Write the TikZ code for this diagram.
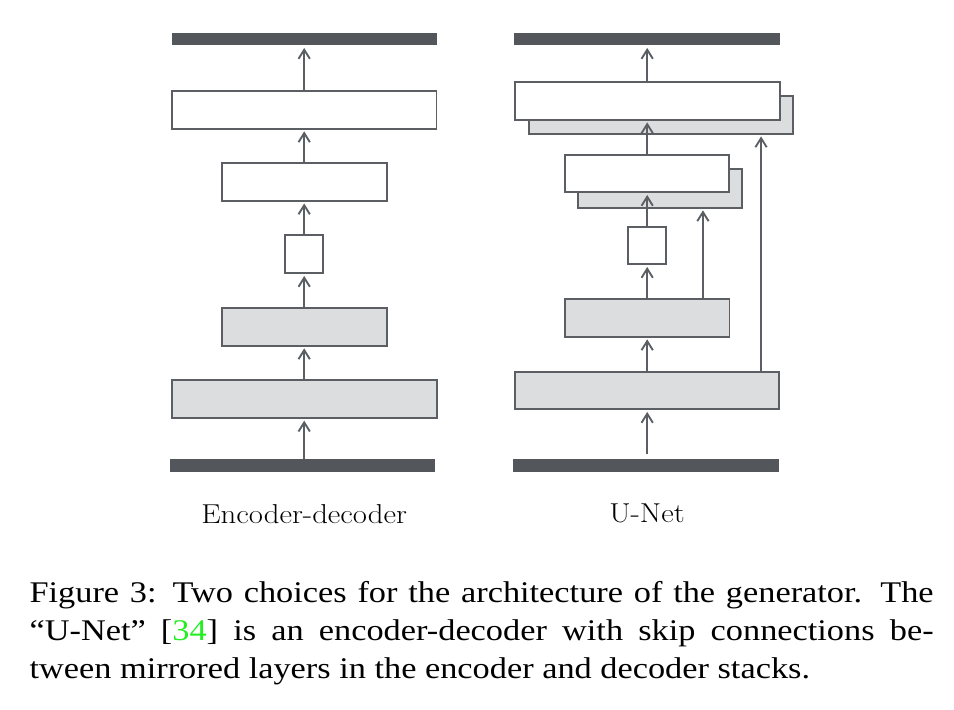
\documentclass[tikz,border=0pt]{standalone}
\usepackage{fontspec}
\newfontfamily\capfont{Liberation Serif}
\usetikzlibrary{arrows.meta,calc}
\definecolor{linec}{HTML}{5B5F64}
\definecolor{barc}{HTML}{53575C}
\definecolor{grayc}{HTML}{DCDDDF}
\definecolor{citec}{HTML}{22EE22}
\newcommand{\wide}[2]{\scalebox{#1}[1]{#2}}
\begin{document}
\begin{tikzpicture}[x=0.75pt,y=-0.75pt,
 layer/.style={draw=linec, line width=1.4pt, inner sep=0pt, outer sep=0pt},
 wbox/.style={layer, fill=white},
 gbox/.style={layer, fill=grayc},
 bar/.style={fill=barc, draw=none, inner sep=0pt, outer sep=0pt, minimum height=12.6*0.75pt},
 sz/.style 2 args={minimum width=#1*0.75pt, minimum height=#2*0.75pt},
 arr/.style={draw=linec, line width=1.4pt, -{Straight Barb[length=6.8pt,width=8.5pt]}, shorten >=2pt},
 lbl/.style={font=\fontsize{20.5pt}{24pt}\selectfont, anchor=base, inner sep=0pt},
 captxt/.style={font=\capfont\fontsize{22.5pt}{28pt}\selectfont, anchor=base west, inner sep=0pt},
]
\useasboundingbox (0,0) rectangle (954,710);

% ---------- Encoder-decoder ----------
\node[bar, sz={265}{12.6}] (barTL) at (304.5,39) {};
\node[wbox, sz={264.5}{38}] (L1) at (304.2,109.7) {};
\node[wbox, sz={165}{38}] (L2) at (304.2,181.8) {};
\node[wbox, sz={38}{38}] (L3) at (304.2,254.3) {};
\node[gbox, sz={165}{38}] (L4) at (304.2,326.7) {};
\node[gbox, sz={265}{38}] (L5) at (304.2,399) {};
\node[bar, sz={265}{12.7}] (barBL) at (302.7,465.6) {};

\draw[arr] (L5.south |- barBL.north) -- (L5.south);
\draw[arr] (L5.north) -- (L4.south);
\draw[arr] (L4.north) -- (L3.south);
\draw[arr] (L3.north) -- (L2.south);
\draw[arr] (L2.north) -- (L1.south);
\draw[arr] (L1.north) -- (L1.north |- barTL.south);

\node[lbl] (lblL) at (304.2,523) {\wide{1.126}{Encoder-decoder}};

% ---------- U-Net ----------
\node[bar, sz={265.7}{12.6}] (barTR) at (647.2,39) {};
\node[gbox, sz={264.3}{37.7}] (Ab) at (661.2,114.9) {};
\node[wbox, sz={265}{37.7}] (Af) at (647.2,100.9) {};
\node[gbox, sz={164.6}{38.4}] (Bb) at (660,188.5) {};
\node[wbox, sz={164.3}{37.6}] (Bf) at (647.2,173.5) {};
\node[wbox, sz={37.7}{37.6}] (C) at (647.2,245.5) {};
\node[gbox, sz={164.7}{37.4}] (D) at (647.2,318) {};
\node[gbox, sz={264.3}{37.6}] (E) at (647.2,390.5) {};
\node[bar, sz={266}{12.7}] (barBR) at (645.7,465.7) {};

\draw[arr, shorten <=3.75pt] (E.south |- barBR.north) -- (E.south);
\draw[arr] (E.north) -- (D.south);
\draw[arr] (D.north) -- (C.south);
\draw[arr] (C.north) -- (Bf.south);
\draw[arr] (Bf.north) -- (Af.south);
\draw[arr] (Af.north) -- (Af.north |- barTR.south);

\coordinate (s1) at ($(E.north east)+(-18.3,0)$);
\coordinate (s2) at ($(D.north east)+(-26.6,0)$);
\draw[arr] (s1) -- (s1 |- Ab.south);
\draw[arr] (s2) -- (s2 |- Bb.south);

\node[lbl] (lblR) at (647,522.5) {\wide{1.126}{U-Net}};

% ---------- Caption ----------
\node[captxt] (cap1) at (29.3,602.7) {\wide{1.144}{\makebox[592.7pt][s]{Figure 3: Two choices for the architecture of the generator. The}}};
\node[captxt] (cap2) at (29.3,640.3) {\wide{1.144}{\makebox[592.7pt][s]{“U-Net” [{\color{citec}34}] is an encoder-decoder with skip connections be-}}};
\node[captxt] (cap3) at (29.3,678.3) {\wide{1.144}{tween mirrored layers in the encoder and decoder stacks.}};
\end{tikzpicture}
\end{document}
